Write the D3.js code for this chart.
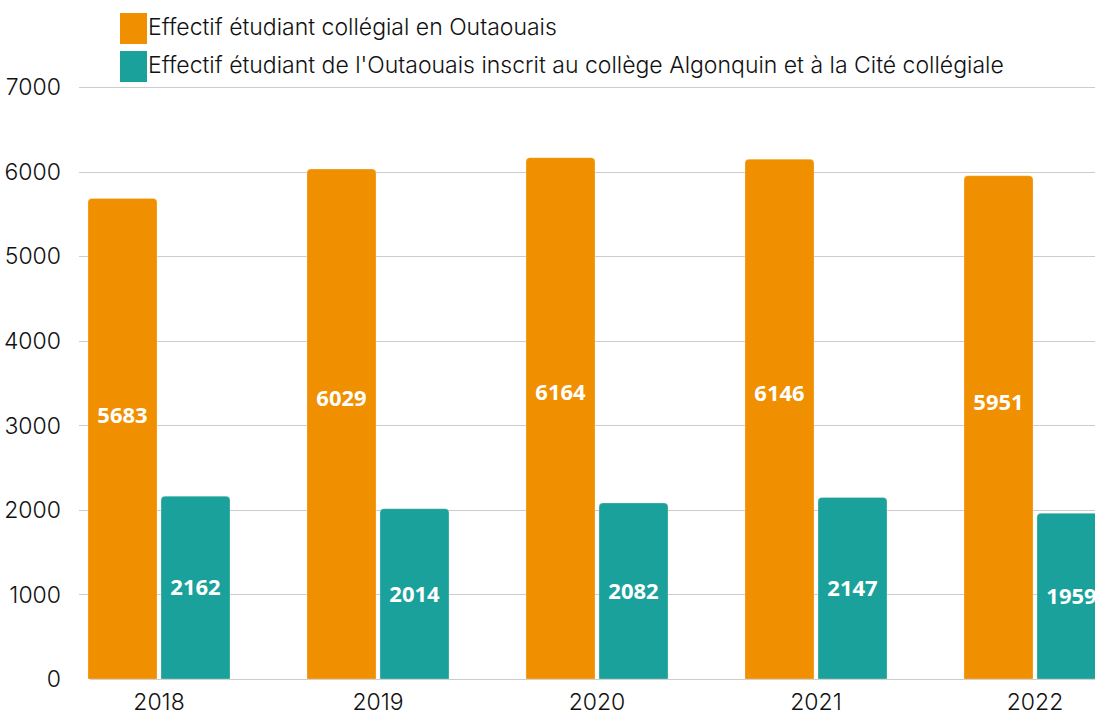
<!DOCTYPE html>
<html>
<head>
<meta charset="utf-8">
<script src="https://cdn.jsdelivr.net/npm/d3@7"></script>
<style>
  body { margin: 0; background: #fff; overflow: hidden; }
  svg { display: block; }
</style>
</head>
<body>
<div id="chart"></div>
<script>
var years = ["2018", "2019", "2020", "2021", "2022"]
var seriesNames = [
    "Effectif étudiant collégial en Outaouais",
    "Effectif étudiant de l'Outaouais inscrit au collège Algonquin et à la Cité collégiale"
]
var collegial = [5683, 6029, 6164, 6146, 5951]
var algonquinCite = [2162, 2014, 2082, 2147, 1959]
var yTicks = [0, 1000, 2000, 3000, 4000, 5000, 6000, 7000]
var colors = ["#f08f00", "#1aa19c"]

var width = 1095
var height = 710

drawChart()

function drawChart(){
    var svg = d3.select("#chart")
        .append("svg")
        .attr("width", width)
        .attr("height", height)

    var y = d3.scaleLinear()
        .domain([0, 7000])
        .range([679, 87])

    // step 219, first bar starts at 88
    var x = d3.scaleBand()
        .domain(years)
        .range([49.5, 1144.5])
        .paddingInner(77 / 219)
        .paddingOuter(77 / 438)

    var x1 = d3.scaleBand()
        .domain([0, 1])
        .range([0, x.bandwidth()])
        .paddingInner(4 / 73)

    // grid lines
    svg.append("g")
        .selectAll("line")
        .data(yTicks)
        .enter()
        .append("line")
        .attr("x1", function(d) { return d == 0 ? 90 : 79 })
        .attr("x2", width)
        .attr("y1", function(d) { return Math.round(y(d)) + 0.5 })
        .attr("y2", function(d) { return Math.round(y(d)) + 0.5 })
        .attr("stroke", "#cccccc")
        .attr("stroke-width", 1)

    // y axis labels
    svg.append("g")
        .selectAll("text")
        .data(yTicks)
        .enter()
        .append("text")
        .attr("x", 61)
        .attr("y", function(d) { return y(d) })
        .attr("dy", "0.36em")
        .attr("text-anchor", "end")
        .style("font-family", "Inter, sans-serif")
        .style("font-weight", 300)
        .style("font-size", "23px")
        .style("fill", "#111")
        .text(function(d) { return d })

    // x axis labels (cut at the bottom edge like the original)
    svg.append("g")
        .selectAll("text")
        .data(years)
        .enter()
        .append("text")
        .attr("x", function(d) { return x(d) + x.bandwidth() / 2 })
        .attr("y", 710)
        .attr("text-anchor", "middle")
        .style("font-family", "Inter, sans-serif")
        .style("font-weight", 300)
        .style("font-size", "23px")
        .style("fill", "#111")
        .text(function(d) { return d })

    var series = [collegial, algonquinCite]
    var r = 4

    series.forEach(function(values, s){
        var g = svg.append("g")
        g.selectAll("path")
            .data(values)
            .enter()
            .append("path")
            .attr("d", function(d, i) {
                var x0 = x(years[i]) + x1(s)
                var w = x1.bandwidth()
                var top = y(d)
                var bottom = y(0)
                return "M" + x0 + "," + bottom +
                    "V" + (top + r) +
                    "Q" + x0 + "," + top + " " + (x0 + r) + "," + top +
                    "H" + (x0 + w - r) +
                    "Q" + (x0 + w) + "," + top + " " + (x0 + w) + "," + (top + r) +
                    "V" + bottom + "Z"
            })
            .attr("fill", colors[s])
            .attr("stroke", "#fff2dc")
            .attr("stroke-opacity", 0.5)
            .attr("stroke-width", 0.6)

        // value labels, orange ones sit a bit above middle
        g.selectAll("text")
            .data(values)
            .enter()
            .append("text")
            .attr("x", function(d, i) { return x(years[i]) + x1(s) + x1.bandwidth() / 2 })
            .attr("y", function(d) { return s == 0 ? y(d * 0.55) : y(d / 2) })
            .attr("dy", "0.36em")
            .attr("text-anchor", "middle")
            .style("font-family", "'Open Sans', sans-serif")
            .style("font-weight", 700)
            .style("font-size", "22px")
            .style("fill", "#fff")
            .text(function(d) { return d })
    })

    // legend
    var legend = svg.append("g")
    legend.selectAll("rect")
        .data(seriesNames)
        .enter()
        .append("rect")
        .attr("x", 120)
        .attr("y", function(d, i) { return 13 + i * 38 })
        .attr("width", 27)
        .attr("height", 31)
        .attr("fill", function(d, i) { return colors[i] })

    legend.selectAll("text")
        .data(seriesNames)
        .enter()
        .append("text")
        .attr("x", 148)
        .attr("y", function(d, i) { return 35 + i * 38 })
        .style("font-family", "Inter, sans-serif")
        .style("font-weight", 300)
        .style("font-size", "23px")
        .style("fill", "#111")
        .text(function(d) { return d })
}
</script>
</body>
</html>
